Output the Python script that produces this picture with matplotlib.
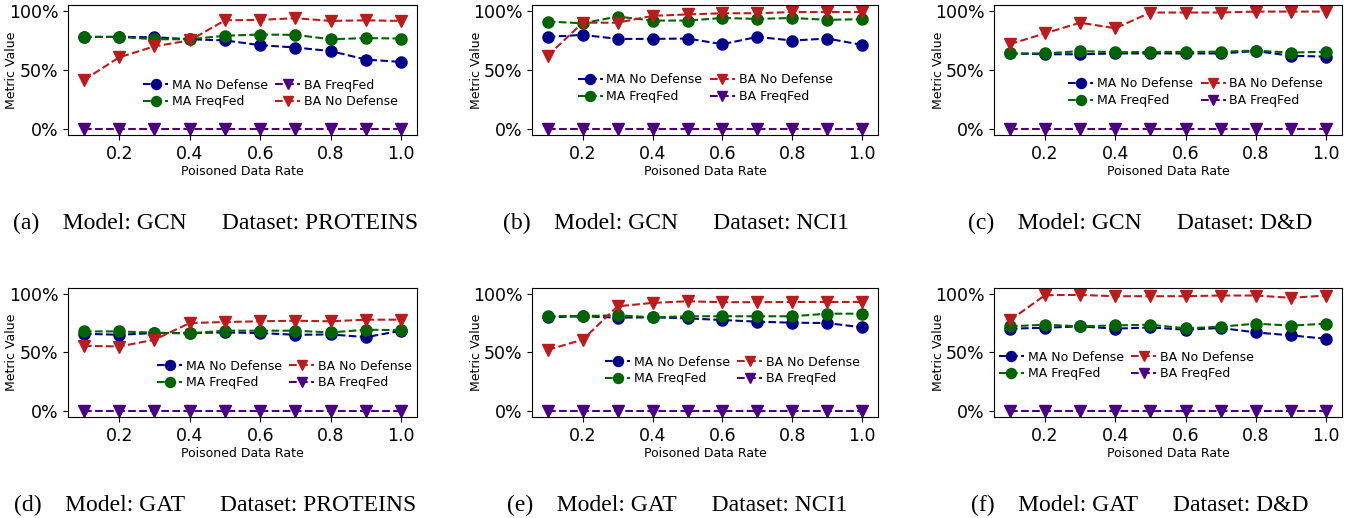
import matplotlib
matplotlib.use("Agg")
import matplotlib.pyplot as plt
from matplotlib.ticker import PercentFormatter
import numpy as np

rates = [0.1, 0.2, 0.3, 0.4, 0.5, 0.6, 0.7, 0.8, 0.9, 1.0]

# (a) GCN / PROTEINS
a_ma_nd = [0.78, 0.78, 0.777, 0.76, 0.75, 0.71, 0.69, 0.66, 0.588, 0.568]
a_ma_ff = [0.78, 0.78, 0.76, 0.76, 0.79, 0.80, 0.797, 0.76, 0.77, 0.766]
a_ba_nd = [0.415, 0.607, 0.70, 0.75, 0.92, 0.924, 0.938, 0.915, 0.92, 0.915]
a_ba_ff = [0.0] * 10

# (b) GCN / NCI1
b_ma_nd = [0.78, 0.797, 0.763, 0.763, 0.766, 0.718, 0.78, 0.749, 0.766, 0.712]
b_ma_ff = [0.91, 0.895, 0.952, 0.918, 0.918, 0.94, 0.932, 0.94, 0.924, 0.93]
b_ba_nd = [0.62, 0.90, 0.90, 0.958, 0.97, 0.98, 0.98, 0.99, 0.99, 0.99]
b_ba_ff = [0.0] * 10

# (c) GCN / D&D
c_ma_nd = [0.64, 0.633, 0.633, 0.64, 0.64, 0.64, 0.64, 0.66, 0.62, 0.613]
c_ma_ff = [0.64, 0.64, 0.66, 0.65, 0.653, 0.653, 0.655, 0.664, 0.647, 0.655]
c_ba_nd = [0.718, 0.81, 0.90, 0.853, 0.986, 0.986, 0.986, 0.994, 0.994, 0.994]
c_ba_ff = [0.0] * 10

# (d) GAT / PROTEINS
d_ma_nd = [0.66, 0.651, 0.666, 0.666, 0.671, 0.666, 0.651, 0.654, 0.631, 0.686]
d_ma_ff = [0.68, 0.68, 0.669, 0.663, 0.686, 0.686, 0.686, 0.671, 0.694, 0.691]
d_ba_nd = [0.557, 0.551, 0.609, 0.751, 0.76, 0.766, 0.771, 0.766, 0.78, 0.78]
d_ba_ff = [0.0] * 10

# (e) GAT / NCI1
e_ma_nd = [0.80, 0.809, 0.797, 0.80, 0.791, 0.777, 0.763, 0.754, 0.751, 0.714]
e_ma_ff = [0.811, 0.811, 0.817, 0.80, 0.809, 0.809, 0.809, 0.809, 0.831, 0.831]
e_ba_nd = [0.523, 0.609, 0.894, 0.923, 0.937, 0.929, 0.929, 0.931, 0.931, 0.931]
e_ba_ff = [0.0] * 10

# (f) GAT / D&D
f_ma_nd = [0.703, 0.711, 0.723, 0.703, 0.714, 0.694, 0.709, 0.671, 0.646, 0.617]
f_ma_ff = [0.723, 0.737, 0.723, 0.731, 0.737, 0.706, 0.72, 0.746, 0.729, 0.746]
f_ba_nd = [0.774, 0.989, 0.991, 0.98, 0.98, 0.98, 0.986, 0.986, 0.966, 0.986]
f_ba_ff = [0.0] * 10

captions = ["(a)    Model: GCN      Dataset: PROTEINS",
            "(b)    Model: GCN      Dataset: NCI1",
            "(c)    Model: GCN      Dataset: D&D",
            "(d)    Model: GAT      Dataset: PROTEINS",
            "(e)    Model: GAT      Dataset: NCI1",
            "(f)    Model: GAT      Dataset: D&D"]

panels = [(a_ma_nd, a_ma_ff, a_ba_nd, a_ba_ff),
          (b_ma_nd, b_ma_ff, b_ba_nd, b_ba_ff),
          (c_ma_nd, c_ma_ff, c_ba_nd, c_ba_ff),
          (d_ma_nd, d_ma_ff, d_ba_nd, d_ba_ff),
          (e_ma_nd, e_ma_ff, e_ba_nd, e_ba_ff),
          (f_ma_nd, f_ma_ff, f_ba_nd, f_ba_ff)]

# axes rectangles (fig fraction) and legend centers (axes fraction)
rects = [[0.0503, 0.7394, 0.258, 0.251],
         [0.3932, 0.7394, 0.2557, 0.251],
         [0.7347, 0.7394, 0.2572, 0.251],
         [0.0503, 0.195, 0.258, 0.249],
         [0.3932, 0.195, 0.2557, 0.249],
         [0.7347, 0.195, 0.2572, 0.249]]
leg_pos = [(0.58, 0.32), (0.50, 0.36), (0.58, 0.33),
           (0.62, 0.33), (0.58, 0.36), (0.38, 0.40)]
cap_pos = [(0.159, 0.569), (0.4998, 0.569), (0.8426, 0.569),
           (0.159, 0.024), (0.5004, 0.024), (0.8426, 0.024)]

c_ma_nd_col = '#00008b'
c_ma_ff_col = '#006400'
c_ba_nd_col = '#b81c1c'
c_ba_ff_col = '#4b0082'

fig = plt.figure(figsize=(13.53, 5.18), dpi=100)

for k in range(6):
    ax = fig.add_axes(rects[k])
    ma_nd, ma_ff, ba_nd, ba_ff = panels[k]
    kw = dict(linestyle='--', markersize=8, linewidth=1.5)
    ax.plot(rates, ma_nd, marker='o', color=c_ma_nd_col, label='MA No Defense', **kw)
    ax.plot(rates, ma_ff, marker='o', color=c_ma_ff_col, label='MA FreqFed', **kw)
    if k == 0:
        ax.plot(rates, ba_ff, marker='v', color=c_ba_ff_col, label='BA FreqFed', **kw)
        ax.plot(rates, ba_nd, marker='v', color=c_ba_nd_col, label='BA No Defense', **kw)
    else:
        ax.plot(rates, ba_nd, marker='v', color=c_ba_nd_col, label='BA No Defense', **kw)
        ax.plot(rates, ba_ff, marker='v', color=c_ba_ff_col, label='BA FreqFed', **kw)
    ax.set_ylim(-0.05, 1.05)
    ax.set_yticks([0, 0.5, 1.0])
    ax.yaxis.set_major_formatter(PercentFormatter(1.0, decimals=0))
    ax.tick_params(labelsize=12.5)
    ax.set_xlabel('Poisoned Data Rate', fontsize=9, labelpad=2)
    ax.set_ylabel('Metric Value', fontsize=9)
    ax.yaxis.set_label_coords(-0.142, 0.5)
    ax.legend(loc='center', bbox_to_anchor=leg_pos[k], ncol=2, frameon=False,
              fontsize=9, handlelength=2.0, handletextpad=0.3, columnspacing=0.6,
              labelspacing=0.3, markerscale=0.9)
    fig.text(cap_pos[k][0], cap_pos[k][1], captions[k], ha='center', va='center',
             fontsize=17, family='Liberation Serif')

fig.savefig('out.png', dpi=100)
